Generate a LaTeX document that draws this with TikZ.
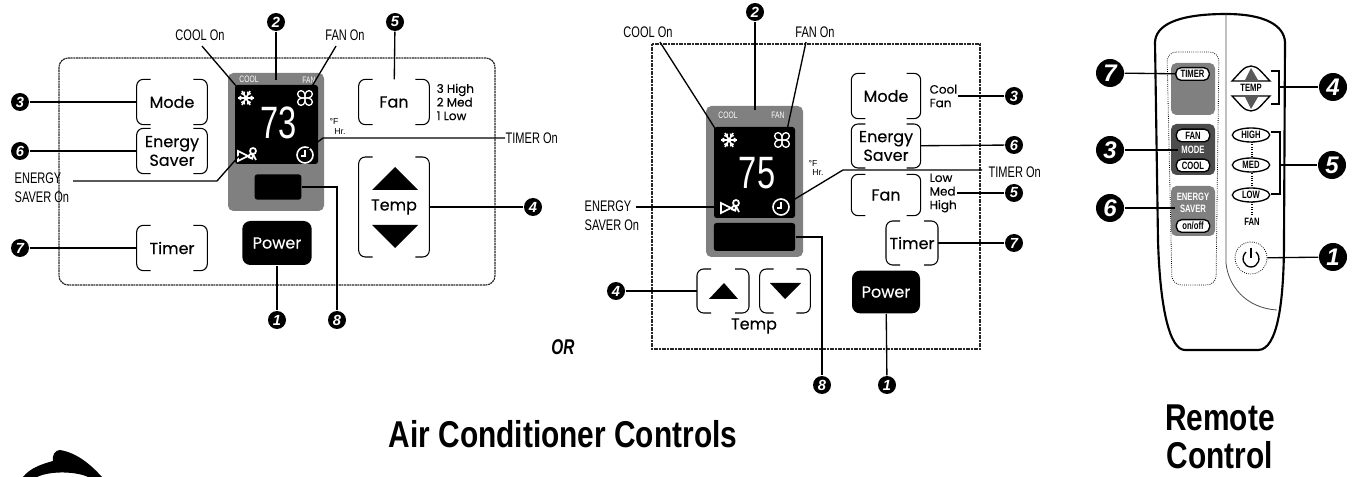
\documentclass[tikz,border=0pt]{standalone}
\usepackage{fontspec}
\usepackage{amsmath}
\usetikzlibrary{calc}
\usetikzlibrary{positioning}
\usetikzlibrary{shapes.geometric}
\setmainfont{Liberation Sans}
\newfontfamily\narrowfont[FakeStretch=0.72]{Liberation Sans}
\newfontfamily\titlefont[FakeStretch=0.8]{Liberation Sans}
\newfontfamily\keyfont[FakeBold=0.3]{Poppins}

\tikzset{
  num/.style={circle, fill=black, text=white, inner sep=0pt, minimum size=13.5pt,
    font=\fontsize{11}{11}\selectfont\bfseries\itshape},
  bignum/.style={num, minimum size=21pt, font=\fontsize{18}{18}\selectfont\bfseries\itshape},
  keybox/.style={inner sep=0pt, font=\keyfont\fontsize{12}{14}\selectfont, align=center},
  sidetext/.style={inner sep=0pt, anchor=west, align=left, font=\keyfont\fontsize{9}{10.2}\selectfont},
  note/.style={inner sep=0pt, font=\narrowfont\fontsize{11.5}{14}\selectfont, align=left},
  panelline/.style={line width=0.9pt, black!85, dash pattern=on 1.5pt off 0.5pt},
  shade/.style={fill=black!50, rounded corners=4pt},
  screen/.style={fill=black, rounded corners=2pt},
  icon/.style={white, line width=1pt},
  tiny/.style={inner sep=0pt, text=white, font=\narrowfont\fontsize{7}{7}\selectfont},
  digits/.style={inner sep=0pt, text=white, font=\narrowfont\fontsize{34}{34}\selectfont},
  small/.style={inner sep=0pt, font=\fontsize{6.5}{7}\selectfont},
  pillkey/.style={draw, fill=white, rounded corners=4pt, inner sep=0pt, minimum width=25pt,
    minimum height=9.5pt, font=\narrowfont\bfseries\fontsize{8}{8}\selectfont},
  lenskey/.style={ellipse, draw, fill=white, line width=1pt, inner sep=0pt, minimum width=28pt,
    minimum height=10.5pt, font=\narrowfont\bfseries\fontsize{8}{8}\selectfont},
  remotetext/.style={inner sep=0pt, font=\narrowfont\bfseries\fontsize{8}{9}\selectfont, align=center},
  title/.style={inner sep=0pt, font=\titlefont\bfseries\fontsize{28}{29}\selectfont}
}

% white icons of the display
\newcommand{\flakeicon}[1]{
  \begin{scope}[shift={(#1)}]
    \foreach \a in {0,60,120} {
      \draw[icon, line width=1.3pt] (\a:-8) -- (\a:8);
      \draw[icon] (\a:4) -- ++(\a+40:3) (\a:4) -- ++(\a-40:3);
      \draw[icon] (\a:-4) -- ++(\a+140:3) (\a:-4) -- ++(\a-140:3);
    }
  \end{scope}
}
\newcommand{\fanicon}[1]{
  \begin{scope}[shift={(#1)}]
    \foreach \a in {45,135,225,315}
      \draw[icon, rotate=\a] (0,0) .. controls (3,-5) and (9,-4) .. (9,0) .. controls (9,4) and (3,5) .. (0,0);
  \end{scope}
}
\newcommand{\clockicon}[1]{
  \begin{scope}[shift={(#1)}]
    \draw[icon, line width=1.2pt] (0,0) circle [radius=8];
    \draw[icon] (0,-5) -- (0,1) -- (-4,1);
  \end{scope}
}
\newcommand{\plugicon}[1]{
  \begin{scope}[shift={(#1)}]
    \draw[icon, line width=1.3pt] (-9,-5) -- (1,0) -- (-9,5) -- cycle;
    \draw[icon, line width=1.3pt] (1,1) -- (6,3) (4,0) circle [radius=2] (6,-5) circle [radius=3] (6,-2) -- (9,4);
  \end{scope}
}

\begin{document}
\begin{tikzpicture}[x=0.75pt, y=-0.75pt, line width=1pt]
        \useasboundingbox (0,0) rectangle (1357,477);

        % first panel
        \draw[panelline, rounded corners=7pt] (59,58) rectangle (495,285);
        \path[shade] (228,73) rectangle (324,211);
        \path[screen] (235,85) rectangle (318,164);
        \node[screen, minimum width=35pt, minimum height=19pt, inner sep=0pt] (lamp-a) at (278,187) {};

        \node[tiny] at (249,79) {COOL};
        \node[tiny] at (309,80) {FAN};
        \node[digits] (temp-a) at (279,123) {73};
        \flakeicon{246,98}
        \fanicon{305,98}
        \plugicon{247,156}
        \clockicon{305,155}
        \node[small] at (334,121) {\textdegree F};
        \node[small] at (340,132) {Hr.};

        \node[keybox, minimum width=52pt, minimum height=33pt] (mode-a) at (172,102) {Mode};
        \node[keybox, minimum width=52pt, minimum height=33pt] (saver-a) at (172,151) {Energy\\Saver};
        \node[keybox, minimum width=52pt, minimum height=33pt] (timer-a) at (172,248) {Timer};
        \node[keybox, minimum width=52pt, minimum height=33pt] (fan-a) at (394,102) {Fan};
        \node[keybox, minimum width=52pt, minimum height=74pt] (temp-key-a) at (394,207) {Temp};
        \node[sidetext] (fan-range-a) at (436,102) {3 High\\2 Med\\1 Low};
        \fill (372,190) -- (395,167) -- (418,190) -- cycle;
        \fill (372,225) -- (395,248) -- (418,225) -- cycle;
        \node[keybox, fill=black, text=white, rounded corners=6pt, minimum width=52pt, minimum height=33pt] (power-a) at (277,243) {Power};

        \node[num] (n2a) at (276,22) {2};
        \node[num] (n5a) at (395,22) {5};
        \node[num] (n3a) at (20,102) {3};
        \node[num] (n6a) at (20,151) {6};
        \node[num] (n7a) at (20,248) {7};
        \node[num] (n1a) at (277,320) {1};
        \node[num] (n8a) at (337,320) {8};
        \node[num] (n4a) at (533,207) {4};

        \node[note] (cool-on-a) at (200,35) {COOL On};
        \node[note] (fan-on-a) at (345,35) {FAN On};
        \node[note, anchor=west] (timer-on-a) at (505,138) {TIMER On};
        \node[note, anchor=north west] (saver-on-a) at (14,172) {ENERGY\\SAVER On};

        \coordinate (screen-top-a) at (276,80);
        \coordinate (cool-end-a) at (237,87);
        \coordinate (fan-end-a) at (311,88);
        \coordinate (clock-end-a) at (307,150);
        \coordinate (timer-bend-a) at (323,138);
        \coordinate (plug-end-a) at (239,156);
        \coordinate (plug-bend-a) at (217,181);
        \coordinate (saver-start-a) at (73,181);
        \coordinate (lamp-bend-a) at (337,187);

        \path (n3a) edge (mode-a);
        \path (n6a) edge (saver-a);
        \path (n7a) edge (timer-a);
        \path (n4a) edge (temp-key-a);
        \path (n5a) edge (fan-a);
        \path (n1a) edge (power-a);
        \path (n2a) edge (screen-top-a);
        \draw ($(cool-on-a.south)+(2,5)$) -- (cool-end-a);
        \draw ($(fan-on-a.south)+(-9,5)$) -- (fan-end-a);
        \draw (timer-on-a) -- (timer-bend-a) -- (clock-end-a);
        \draw (saver-start-a) -- (plug-bend-a) -- (plug-end-a);
        \draw (lamp-a) -- (lamp-bend-a) -- (n8a);

        % second panel
        \draw[panelline] (652,44) rectangle (980,349);
        \path[shade] (706,106) rectangle (803,257);
        \path[screen] (714,127) rectangle (795,218);
        \node[screen, minimum width=61pt, minimum height=21pt, inner sep=0pt] (lamp-b) at (754.5,237) {};

        \node[tiny] at (728,115) {COOL};
        \node[tiny] at (778,115) {FAN};
        \node[digits] (temp-b) at (757,173) {75};
        \flakeicon{729,140}
        \fanicon{782,140}
        \plugicon{730,208}
        \clockicon{781,207}
        \node[small] at (813,163) {\textdegree F};
        \node[small] at (818,173) {Hr.};

        \node[keybox, minimum width=51pt, minimum height=33pt] (mode-b) at (886,96) {Mode};
        \node[keybox, minimum width=51pt, minimum height=32pt] (saver-b) at (886,146) {Energy\\Saver};
        \node[keybox, minimum width=51pt, minimum height=30pt] (fan-b) at (886,195) {Fan};
        \node[keybox, minimum width=38pt, minimum height=32pt] (timer-b) at (912,243) {Timer};
        \node[keybox, minimum width=38pt, minimum height=32pt] (up-b) at (723,291) {};
        \node[keybox, minimum width=37pt, minimum height=32pt] (down-b) at (785,291) {};
        \node[keybox] (temp-key-b) at (754,326) {Temp};
        \fill (709,299) -- (724,283) -- (738,299) -- cycle;
        \fill (770,283) -- (785,299) -- (801,283) -- cycle;
        \node[sidetext] (mode-range-b) at (929,96) {Cool\\Fan};
        \node[sidetext] (fan-range-b) at (929,193) {Low\\Med\\High};
        \node[keybox, fill=black, text=white, rounded corners=6pt, minimum width=51pt, minimum height=32pt] (power-b) at (886,292) {Power};

        \node[num] (n2b) at (755,12) {2};
        \node[num] (n3b) at (1014,96) {3};
        \node[num] (n6b) at (1014,145) {6};
        \node[num] (n5b) at (1014,193) {5};
        \node[num] (n7b) at (1014,243) {7};
        \node[num] (n4b) at (616,291) {4};
        \node[num] (n8b) at (822,385) {8};
        \node[num] (n1b) at (887,385) {1};

        \node[note] (cool-on-b) at (648,32) {COOL On};
        \node[note] (fan-on-b) at (815,32) {FAN On};
        \node[note, anchor=west] (timer-on-b) at (988,172) {TIMER On};
        \node[note, anchor=north west] (saver-on-b) at (584,200) {ENERGY\\SAVER On};

        \coordinate (screen-top-b) at (755,110);
        \coordinate (cool-end-b) at (718,133);
        \coordinate (fan-end-b) at (787,130);
        \coordinate (clock-end-b) at (790,202);
        \coordinate (timer-bend-b) at (843,170);
        \coordinate (timer-start-b) at (982,170);
        \coordinate (plug-end-b) at (717,207);
        \coordinate (saver-start-b) at (636,207);
        \coordinate (lamp-bend-b) at (822,237);

        \path (n3b) edge (mode-range-b);
        \path (n6b) edge (saver-b);
        \path (n5b) edge (fan-range-b);
        \path (n7b) edge (timer-b);
        \path (n4b) edge (up-b);
        \path (n1b) edge (power-b);
        \path (n2b) edge (screen-top-b);
        \draw ($(cool-on-b.south)+(12,4)$) -- (cool-end-b);
        \draw ($(fan-on-b.south)+(-9,4)$) -- (fan-end-b);
        \path (saver-start-b) edge (plug-end-b);
        \draw (timer-start-b) -- (timer-bend-b) -- (clock-end-b);
        \draw (lamp-b) -- (lamp-bend-b) -- (n8b);

        % brackets of the soft keys
        \foreach \k in {mode-a, saver-a, timer-a, fan-a, temp-key-a, mode-b, saver-b, fan-b, timer-b, up-b, down-b} {
          \draw[line width=0.8pt, rounded corners=5pt] ($(\k.north west)+(14,0)$) -- (\k.north west) -- (\k.south west) -- ($(\k.south west)+(14,0)$);
          \draw[line width=0.8pt, rounded corners=5pt] ($(\k.north east)+(-14,0)$) -- (\k.north east) -- (\k.south east) -- ($(\k.south east)+(-14,0)$);
        }

        % remote
        \draw[line width=1.6pt] (1155,42) .. controls (1156,26) and (1175,14) .. (1226,14)
          .. controls (1266,14) and (1284,26) .. (1285,42)
          -- (1284,240) .. controls (1284,300) and (1278,350) .. (1258,350)
          -- (1185,350) .. controls (1170,350) and (1160,310) .. (1158,240) -- cycle;
        \draw[line width=0.6pt, black!70] (1226,14) -- (1226,263) .. controls (1228,285) and (1245,308) .. (1277,310);
        \draw[line width=0.6pt, densely dotted, rounded corners=7pt] (1167,52) -- (1219,52) -- (1216,285) -- (1172,285) -- cycle;

        \path[shade] (1171,63) rectangle (1215,115);
        \node[pillkey] (timer-r) at (1192.5,74) {TIMER};
        \path[fill=black!70, rounded corners=4pt] (1171,124) rectangle (1215,175);
        \node[pillkey] at (1193,135.5) {FAN};
        \node[remotetext, text=white] (mode-r) at (1193,150) {MODE};
        \node[pillkey] at (1193,165.5) {COOL};
        \path[shade] (1171,186) rectangle (1215,236);
        \node[remotetext, text=white] (saver-r) at (1193,203) {ENERGY\\SAVER};
        \node[pillkey] at (1193,226) {on/off};

        \draw[line width=1pt, fill=white] (1232,81) .. controls (1240,73) and (1244,66) .. (1251,66) .. controls (1258,66) and (1262,73) .. (1270,81) -- cycle;
        \fill[black!65] (1251,68) -- (1245,80) -- (1258,80) -- cycle;
        \node[remotetext] at (1251,88) {TEMP};
        \draw[line width=1pt, fill=white] (1232,96) .. controls (1240,104) and (1244,111) .. (1251,111) .. controls (1258,111) and (1262,104) .. (1270,96) -- cycle;
        \fill[black!65] (1251,109) -- (1245,97) -- (1258,97) -- cycle;

        \draw[line width=0.8pt, densely dotted] (1252,142) -- (1252,216);
        \node[lenskey] (high-r) at (1251,135) {HIGH};
        \node[lenskey] (med-r) at (1251,165) {MED};
        \node[lenskey] (low-r) at (1251,195) {LOW};
        \node[remotetext] at (1252,222) {FAN};

        \node[circle, draw, densely dotted, line width=0.6pt, minimum size=24pt, inner sep=0pt] (power-r) at (1251,258) {};
        \draw[line width=1pt] (1251,248) -- (1251,258);
        \draw[line width=1pt] (1256,252) .. controls (1262,258) and (1258,267) .. (1251,267) .. controls (1244,267) and (1240,258) .. (1246,252);

        \node[bignum] (n7r) at (1110,73) {7};
        \node[bignum] (n3r) at (1110,150) {3};
        \node[bignum] (n6r) at (1110,208) {6};
        \node[bignum] (n4r) at (1333,87) {4};
        \node[bignum] (n5r) at (1332,165) {5};
        \node[bignum] (n1r) at (1333,257) {1};

        \coordinate (temp-tip-r) at (1279,87);
        \coordinate (fan-tip-r) at (1280,165);
        \coordinate (saver-end-r) at (1175,208);
        \coordinate (mode-end-r) at (1178,150);

        \path (n7r) edge (timer-r);
        \path (n3r) edge (mode-end-r);
        \path (n6r) edge (saver-end-r);
        \path (n4r) edge (temp-tip-r);
        \path (n5r) edge (fan-tip-r);
        \path (n1r) edge (power-r);
        \draw (1271,71) -- (1279,71) -- (1279,104) -- (1271,104);
        \draw (1271,132) -- (1280,132) -- (1280,194) -- (1271,194);

        % titles
        \node[title] (title-a) at (563,434) {Air Conditioner Controls};
        \node[title, anchor=base] (title-r1) at (1220,431) {Remote};
        \node[title, anchor=base] (title-r2) at (1220,468) {Control};
        \node[inner sep=0pt, font=\narrowfont\bfseries\itshape\fontsize{16}{16}\selectfont] (or) at (563,347) {OR};

        % corner of the next mark
        \fill (23,477) .. controls (30,468) and (42,464) .. (53,461) .. controls (52,455) and (55,450) .. (60,450) .. controls (78,453) and (92,466) .. (102,477) -- (88,477) .. controls (78,472) and (52,470) .. (37,477) -- cycle;
    \end{tikzpicture}
\end{document}
